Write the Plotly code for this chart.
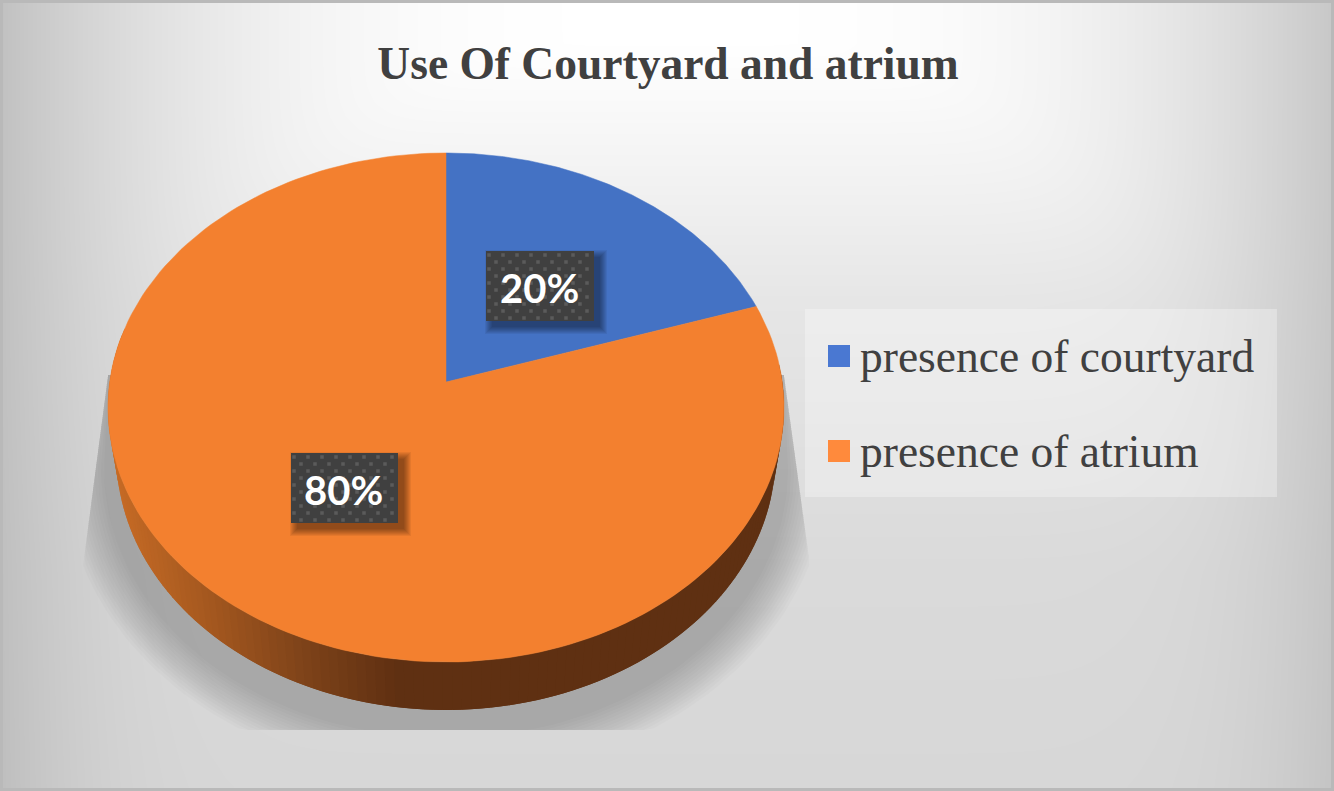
import numpy as np
import plotly.graph_objects as go

# dados do grafico
labels = ['presence of courtyard', 'presence of atrium']
values = [20, 80]
top_colors = ['#4472c4', '#f3802f']
legend_colors = ['#4a78d2', '#ff8a3c']
title = 'Use Of Courtyard and atrium'

W, H = 1334, 791

# pizza 3D: circulo projetado com perspectiva (em pixels)
CX, CY = 446, 382
C, B, P = 336.3, -213.7, 0.1002
DEPTH = 48
RIM = 0.975


def project(th):
    u, v = np.sin(th), np.cos(th)
    d = 1 + P * v
    return CX + C * u / d, (CY + B * v) / d


def poly(x, y, color):
    return go.Scatter(x=x, y=y, mode='lines', fill='toself', fillcolor=color,
                      line=dict(color='rgba(0,0,0,0)', width=0),
                      hoverinfo='skip', showlegend=False)


def rect(x0, y0, x1, y1, color):
    return poly([x0, x1, x1, x0, x0], [y0, y0, y1, y1, y0], color)


fig = go.Figure()

# fundo em degrade, claro no alto e escuro nos cantos
gx = np.linspace(0, W, 90)
gy = np.linspace(0, H, 56)
xx, yy = np.meshgrid(gx, gy)
drop_x = 55 * (np.abs(xx - 680) / 650) ** 2.77
drop_y = np.interp(yy, [40, 150, 300, 570, 790], [0, 10, 25, 37, 40])
shade = 255 - (drop_x ** 4 + drop_y ** 4) ** 0.25
fig.add_trace(go.Heatmap(x=gx, y=gy, z=shade, zmin=0, zmax=255, zsmooth='best',
                         colorscale=[[0, '#000000'], [1, '#ffffff']], showscale=False,
                         hoverinfo='skip'))

# sombra da pizza
ts = np.radians(np.linspace(90, 270, 121))
for e in np.linspace(40, 0, 14):
    sx = 446 + (342 + e) * np.sin(ts)
    sy = 470 - (268 + e) * np.cos(ts)
    left = 108 - (sy - 375) * 23 / 175
    right = 784 + (sy - 375) * 24 / 175
    sx = np.clip(sx, left, right)
    sy = np.minimum(sy, 730)
    fig.add_trace(poly(list(sx) + [108, 784, sx[0]], list(sy) + [375, 375, sy[0]],
                       'rgba(0,0,0,0.016)'))

# lateral da pizza: cada faixa cobre a metade da seguinte para nao deixar emenda
stops_x = [108, 200, 300, 400]
stops_r = [200, 168, 128, 95]
stops_g = [108, 90, 68, 48]
stops_b = [38, 32, 26, 18]
for a in np.arange(86, 280, 1.5):
    t = np.radians(np.linspace(a, a + 3, 4))
    x, y = project(t)
    xm = x[:2].mean()
    col = 'rgb(%d,%d,%d)' % (np.interp(xm, stops_x, stops_r),
                             np.interp(xm, stops_x, stops_g),
                             np.interp(xm, stops_x, stops_b))
    xb = CX + (x[::-1] - CX) * RIM
    fig.add_trace(poly(list(x) + list(xb) + [x[0]],
                       list(y) + list(y[::-1] + DEPTH) + [y[0]], col))

# topo da pizza
start = 0
for name, val, color in zip(labels, values, top_colors):
    end = start + val / sum(values) * 2 * np.pi
    t = np.linspace(start, end, 180)
    x, y = project(t)
    fig.add_trace(go.Scatter(x=[CX] + list(x) + [CX], y=[CY] + list(y) + [CY], mode='lines',
                             fill='toself', fillcolor=color, name=name,
                             line=dict(color=color, width=0.5),
                             hoverinfo='name', showlegend=False))
    start = end

# caixas dos rotulos
boxes = [(486, 251, 594, 321), (291, 453, 398, 523)]
annotations = []
for val, (x0, y0, x1, y1) in zip(values, boxes):
    for s in range(7, -1, -1):
        fig.add_trace(rect(x0 + 6 - s, y0 + 6 - s, x1 + 6 + s, y1 + 6 + s, 'rgba(0,0,0,0.06)'))
    fig.add_trace(rect(x0, y0, x1, y1, '#404040'))
    dx, dy = [], []
    for r, yd in enumerate(np.arange(y0 + 4, y1, 7)):
        for xd in np.arange(x0 + 3 + (r % 2) * 7, x1, 14):
            dx.append(xd)
            dy.append(yd)
    fig.add_trace(go.Scatter(x=dx, y=dy, mode='markers', hoverinfo='skip', showlegend=False,
                             marker=dict(symbol='square', size=3.5, color='#5b5b5b')))
    annotations.append(dict(x=(x0 + x1) / 2 - 1, y=(y0 + y1) / 2 + 2, text='%d%%' % val, showarrow=False,
                            xref='x', yref='y', xanchor='center', yanchor='middle',
                            font=dict(family='Lato', size=40, color='white', weight='bold')))

# legenda
fig.add_trace(rect(805, 309, 1277, 497, 'rgba(255,255,255,0.3)'))
legend_y = [356, 451]
for name, color, ly in zip(labels, legend_colors, legend_y):
    fig.add_trace(go.Scatter(x=[839], y=[ly], mode='markers', hoverinfo='skip', showlegend=False,
                             marker=dict(symbol='square', size=22, color=color)))
    annotations.append(dict(x=858, y=ly, text=name, showarrow=False, xref='x', yref='y',
                            xanchor='left', yanchor='middle',
                            font=dict(family='Liberation Serif', size=45.5, color='#404040')))

fig.update_layout(
    width=W, height=H,
    margin=dict(l=0, r=0, t=0, b=0),
    showlegend=False,
    paper_bgcolor='#e0e0e0',
    plot_bgcolor='#e0e0e0',
    title=dict(text='<b>' + title + '</b>', x=668 / W, y=1 - 63 / H, xanchor='center', yanchor='middle',
               font=dict(family='Liberation Serif', size=45.5, color='#404040')),
    xaxis=dict(range=[0, W], visible=False, fixedrange=True),
    yaxis=dict(range=[H, 0], visible=False, fixedrange=True),
    annotations=annotations,
    shapes=[dict(type='rect', x0=1.5, y0=1.5, x1=W - 1.5, y1=H - 1.5, xref='x', yref='y',
                 line=dict(color='#b9b9b9', width=3))],
)

fig.write_html('out.html', config={'displayModeBar': False},
               post_script="document.body.style.margin='0';document.body.style.overflow='hidden';")
